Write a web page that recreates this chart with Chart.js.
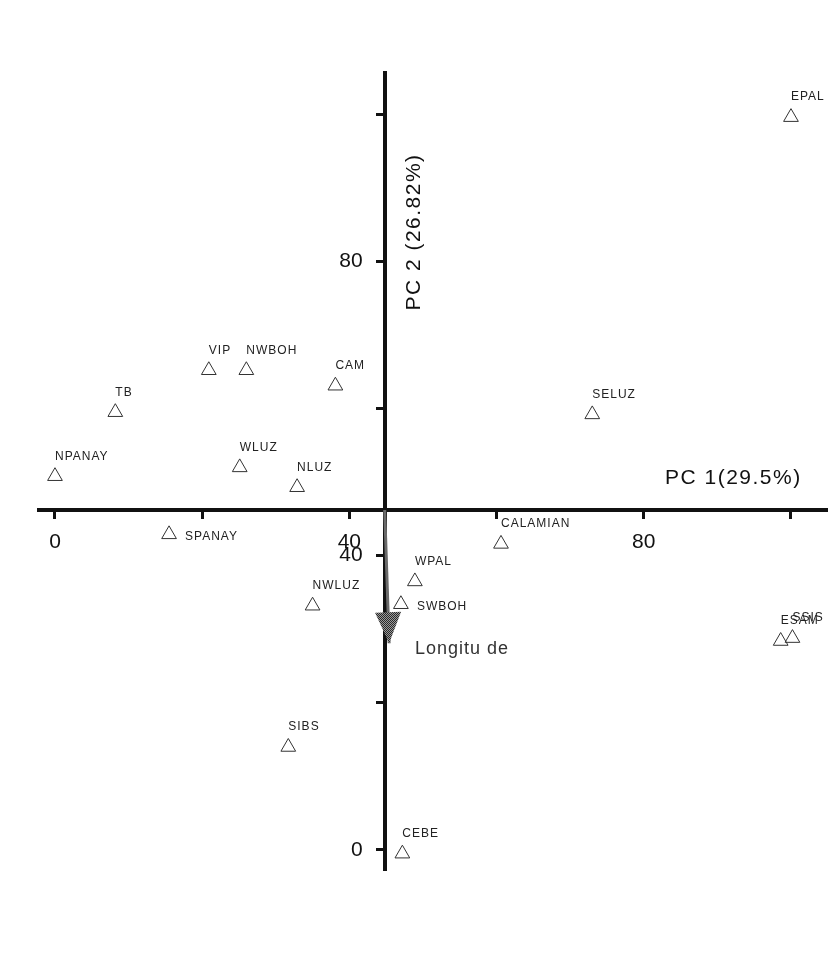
<!DOCTYPE html>
<html>
<head>
<meta charset="utf-8">
<script src="https://cdn.jsdelivr.net/npm/chart.js@4.4.1/dist/chart.umd.min.js"></script>
<style>
  html, body { margin: 0; padding: 0; background: #ffffff; overflow: hidden; }
  #wrap { width: 828px; height: 972px; }
  canvas { display: block; }
</style>
</head>
<body>
<div id="wrap"><canvas id="c" width="828" height="972"></canvas></div>
<script>
// ---- data ----
const populations = ['EPAL','VIP','NWBOH','CAM','TB','NPANAY','WLUZ','NLUZ','SPANAY','SELUZ','CALAMIAN','WPAL','NWLUZ','SWBOH','SIBS','CEBE','ESAM','SSIS'];
const pc1Scores   = [100.0, 20.9, 26.0, 38.1, 8.2, 0.0, 25.1, 32.9, 15.5, 73.0, 60.6, 48.9, 35.0, 47.0, 31.7, 47.2, 98.6, 100.2];
const pc2Scores   = [99.6, 65.2, 65.2, 63.1, 59.5, 50.8, 52.0, 49.3, 42.9, 59.2, 41.6, 36.5, 33.2, 33.4, 14.0, -0.5, 28.4, 28.8];

const xTickLabels = [0, 40, 80];
const yTickLabels = [0, 40, 80];
const axisCross = { x: 44.8, y: 46.2 };           // where the two axes cross
const longitudeVector = { x: 45.4, y: 28.1 };     // tip of the "Longitude" loading arrow
const xTitle = 'PC 1(29.5%)';
const yTitle = 'PC 2 (26.82%)';
const vectorLabel = 'Longitu de';

// label placement (style only)
const labelToRight = ['SPANAY', 'SWBOH'];

const FONT = "'Liberation Sans', Arial, sans-serif";
const INK = '#111111';

const points = populations.map((n, i) => ({ x: pc1Scores[i], y: pc2Scores[i], name: n }));

function makePattern(ctx) {
  const p = document.createElement('canvas');
  p.width = 2; p.height = 2;
  const g = p.getContext('2d');
  g.fillStyle = '#9a9a9a'; g.fillRect(0, 0, 2, 2);
  g.fillStyle = '#2a2a2a'; g.fillRect(0, 0, 1, 1); g.fillRect(1, 1, 1, 1);
  return ctx.createPattern(p, 'repeat');
}

function noPadding(scale) {
  scale.paddingLeft = 0; scale.paddingRight = 0;
  scale.paddingTop = 0; scale.paddingBottom = 0;
}

const annotations = {
  id: 'annotations',
  afterDatasetsDraw(chart) {
    const ctx = chart.ctx;
    const xs = chart.scales.x, ys = chart.scales.y;
    ctx.save();

    // y tick labels (left of the crossing axis)
    const axisX = xs.getPixelForValue(axisCross.x);
    ctx.font = `21px ${FONT}`;
    ctx.fillStyle = INK;
    ctx.textAlign = 'right';
    ctx.textBaseline = 'middle';
    yTickLabels.forEach(v => {
      ctx.fillText(String(v), axisX - 22, ys.getPixelForValue(v));
    });

    // arrowhead of the Longitude vector
    const meta = chart.getDatasetMeta(1);
    const a = meta.data[0], b = meta.data[1];
    const dx = b.x - a.x, dy = b.y - a.y;
    const len = Math.hypot(dx, dy);
    const ux = dx / len, uy = dy / len;
    const headLen = 31, headHalf = 13;
    const bx = b.x - ux * headLen, by = b.y - uy * headLen;
    ctx.beginPath();
    ctx.moveTo(b.x, b.y);
    ctx.lineTo(bx - uy * headHalf, by + ux * headHalf);
    ctx.lineTo(bx + uy * headHalf, by - ux * headHalf);
    ctx.closePath();
    ctx.fillStyle = makePattern(ctx);
    ctx.fill();

    // point labels
    const pm = chart.getDatasetMeta(0);
    ctx.font = `12px ${FONT}`;
    ctx.letterSpacing = '1px';
    ctx.fillStyle = '#222';
    ctx.textAlign = 'left';
    ctx.textBaseline = 'middle';
    pm.data.forEach((el, i) => {
      const name = populations[i];
      if (labelToRight.includes(name)) {
        ctx.fillText(name, el.x + 16, el.y + 2);
      } else {
        ctx.fillText(name, el.x, el.y - 20);
      }
    });

    // axis titles and vector label
    ctx.font = `21px ${FONT}`;
    ctx.letterSpacing = '1.5px';
    ctx.fillStyle = INK;
    ctx.textAlign = 'left';
    ctx.fillText(xTitle, 665, 478);

    ctx.save();
    ctx.translate(414, 232);
    ctx.rotate(-Math.PI / 2);
    ctx.textAlign = 'center';
    ctx.fillText(yTitle, 0, 0);
    ctx.restore();

    ctx.font = `18px ${FONT}`;
    ctx.letterSpacing = '1px';
    ctx.fillStyle = '#333';
    ctx.textAlign = 'left';
    ctx.fillText(vectorLabel, 415, 649);

    ctx.restore();
  }
};

new Chart(document.getElementById('c'), {
  type: 'scatter',
  data: {
    datasets: [
      {
        label: 'Populations',
        data: points,
        pointStyle: 'triangle',
        pointRadius: 8.5,
        pointHoverRadius: 8.5,
        pointBorderWidth: 1,
        borderColor: '#333',
        backgroundColor: 'rgba(255,255,255,0)',
        showLine: false
      },
      {
        label: 'Longitude',
        type: 'line',
        data: [{ x: axisCross.x, y: axisCross.y }, { x: longitudeVector.x, y: longitudeVector.y }],
        borderColor: '#6a6a6a',
        borderWidth: 3,
        pointRadius: 0,
        fill: false
      }
    ]
  },
  options: {
    responsive: false,
    maintainAspectRatio: false,
    animation: false,
    devicePixelRatio: 1,
    layout: { autoPadding: false, padding: { left: 39, right: 0, top: 73, bottom: 102 } },
    plugins: { legend: { display: false }, tooltip: { enabled: false } },
    scales: {
      x: {
        type: 'linear',
        min: -2.17,
        max: 105.03,
        position: { y: axisCross.y },
        afterFit: noPadding,
        border: { display: true, color: INK, width: 4 },
        grid: { drawOnChartArea: false, drawTicks: true, tickLength: 7, tickWidth: 3, tickColor: INK },
        ticks: {
          stepSize: 20,
          includeBounds: false,
          autoSkip: false,
          maxRotation: 0,
          padding: 13,
          color: INK,
          font: { family: FONT, size: 21 },
          callback: v => (xTickLabels.includes(v) ? String(v) : '')
        }
      },
      y: {
        type: 'linear',
        min: -2.72,
        max: 105.6,
        position: { x: axisCross.x },
        afterFit: noPadding,
        border: { display: true, color: INK, width: 4 },
        grid: { drawOnChartArea: false, drawTicks: true, tickLength: 7, tickWidth: 3, tickColor: INK },
        ticks: {
          display: false,
          stepSize: 20,
          includeBounds: false,
          autoSkip: false
        }
      }
    }
  },
  plugins: [annotations]
});
</script>
</body>
</html>
